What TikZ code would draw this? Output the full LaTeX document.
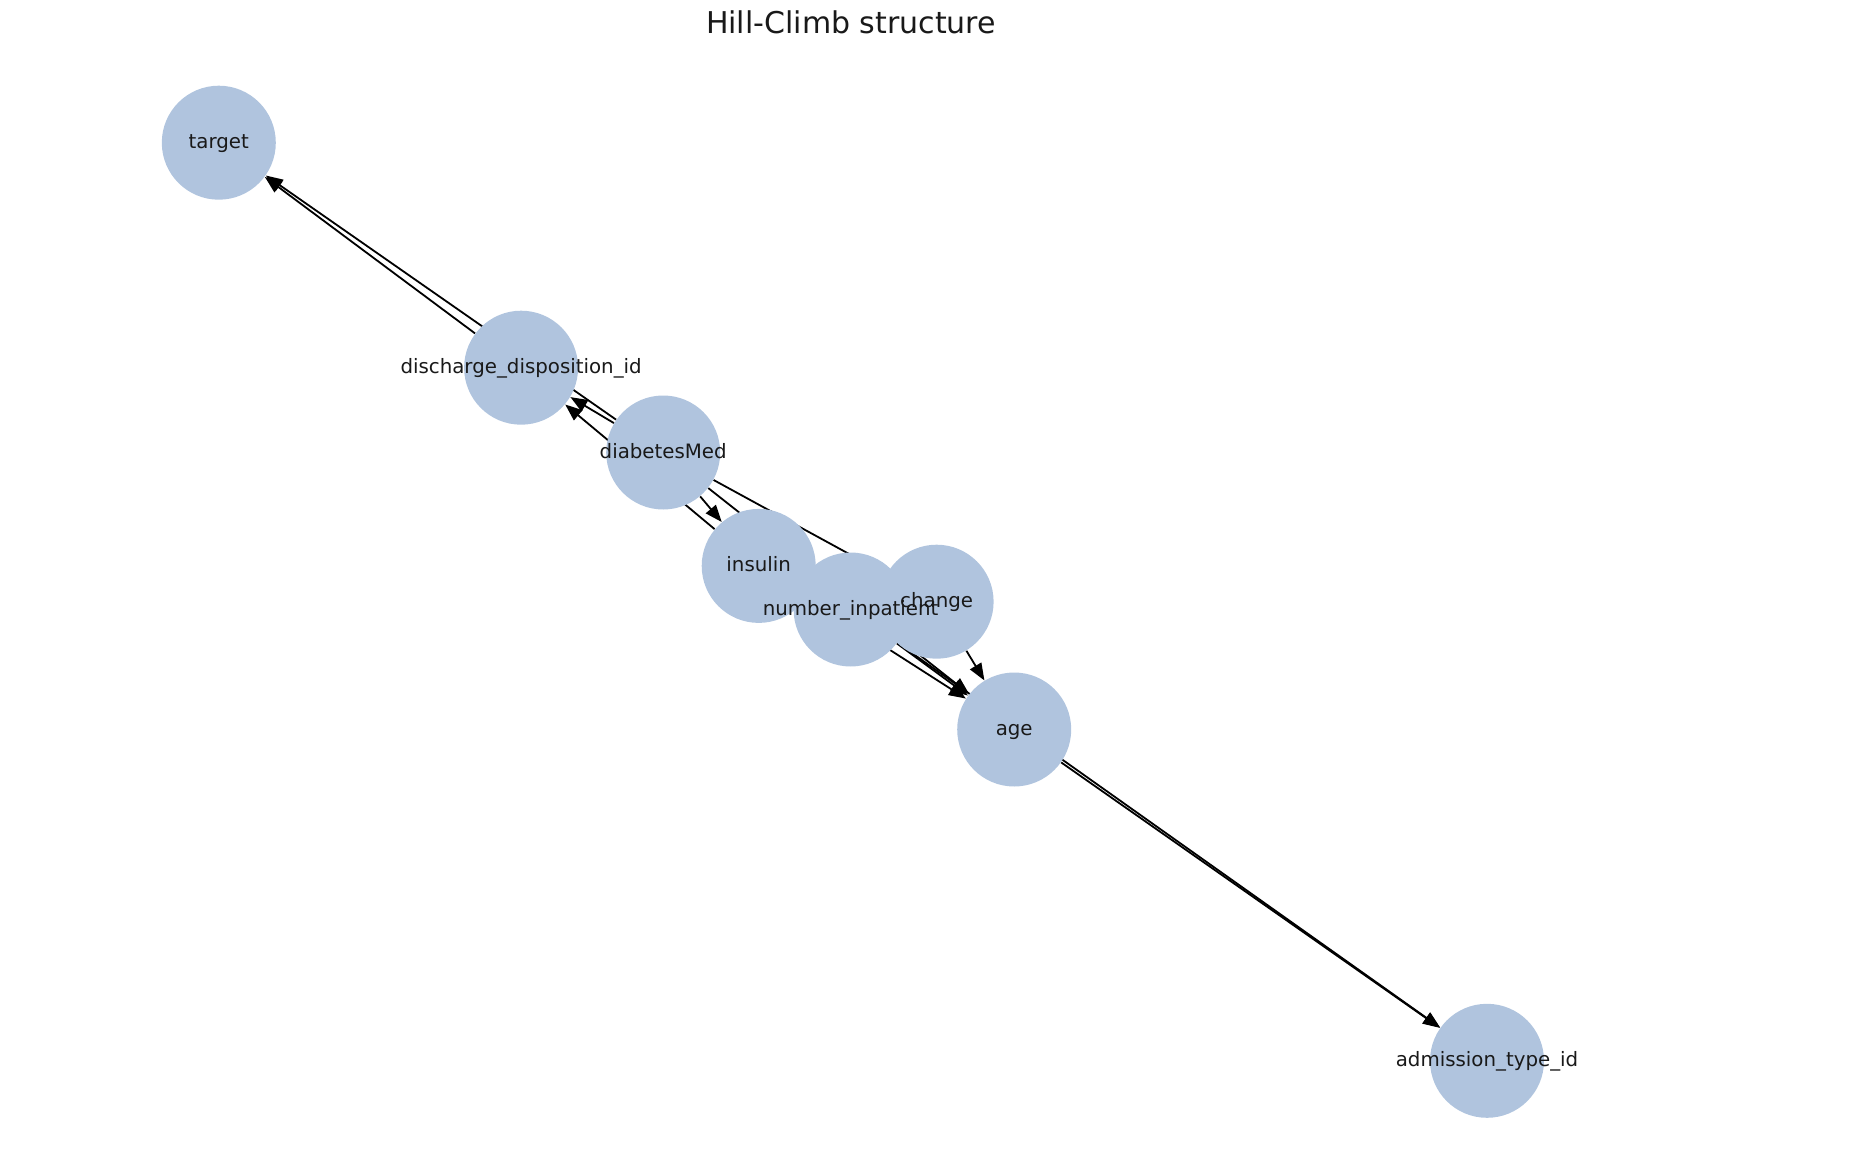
\documentclass[tikz,border=0pt]{standalone}
\usepackage{fontspec}
\setmainfont{DejaVu Sans}
\usetikzlibrary{arrows.meta}
\definecolor{nodeblue}{HTML}{B0C4DE}
\pgfdeclarelayer{bg}
\pgfsetlayers{bg,main}

\begin{document}
\begin{tikzpicture}[x=0.5pt, y=-0.5pt, >={Triangle[length=8.5pt, width=6.5pt]},
    var/.style={circle, fill=nodeblue, minimum size=57pt, inner sep=0pt},
    lbl/.style={font=\fontsize{9.9}{12}\selectfont, text=black!90, inner sep=0pt,
        text height=7.5pt, text depth=2pt},
    edge/.style={->, line width=0.9pt, black}]
    \useasboundingbox (0,0) rectangle (1872,1160);

    % titulo
    \node[font=\fontsize{15}{18}\selectfont, text=black!90] (title) at (851,22.7) {Hill-Climb structure};

    % variables (circulos)
    \foreach \n/\x/\y in {target/218.8/142.7, disch/521.1/367.7, diab/663.2/452.5,
        insulin/758.7/565.9, ninp/850.6/609.5, change/936.6/601.7,
        age/1014.2/729.5, adm/1487/1060.8}
        \node[var] (\n) at (\x,\y) {};

    % etiquetas encima de los circulos
    \node[lbl] (ltarget) at (target) {target};
    \node[lbl] (ldisch) at (disch) {discharge\_disposition\_id};
    \node[lbl] (ldiab) at (diab) {diabetesMed};
    \node[lbl] (linsulin) at (insulin) {insulin};
    \node[lbl] (lchange) at (change) {change};
    \node[lbl] (lninp) at (ninp) {number\_inpatient};
    \node[lbl] (lage) at (age) {age};
    \node[lbl] (ladm) at (adm) {admission\_type\_id};

    % aristas (debajo de los nodos)
    \begin{pgfonlayer}{bg}
        \foreach \a/\b in {disch/target, diab/target, insulin/disch, diab/disch,
            diab/insulin, diab/change, diab/age, insulin/age, ninp/age,
            change/age, age/adm, ninp/adm}
            \draw[edge] (\a) -- (\b);
    \end{pgfonlayer}
\end{tikzpicture}
\end{document}
